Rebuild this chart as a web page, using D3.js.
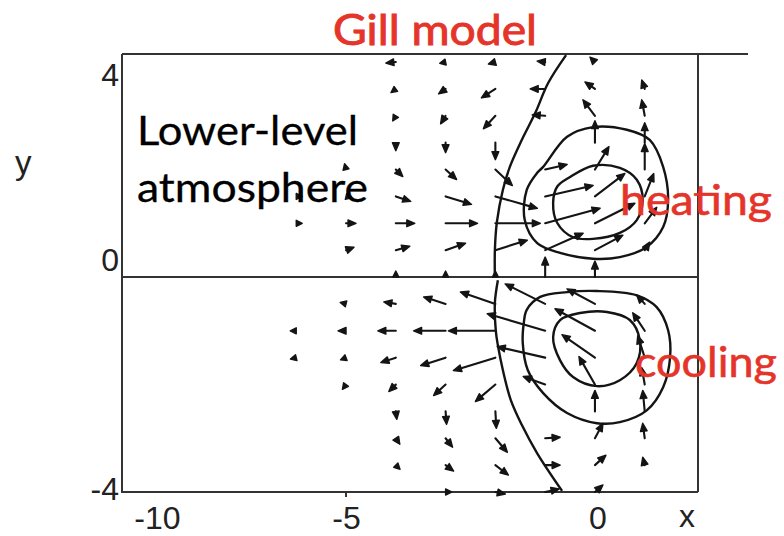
<!DOCTYPE html>
<html><head><meta charset="utf-8">
<script src="https://cdn.jsdelivr.net/npm/d3@7"></script>
<style>body{margin:0;background:#fff} svg{display:block}</style>
</head><body>
<svg id="c" width="784" height="536"></svg>
<script>
// ---- grid of the wind vectors ----
const xCols = [-6, -5, -4, -3, -2, -1, 0, 1];
const yRows = [4, 3.5, 3, 2.5, 2, 1.5, 1, 0.5, 0, -0.5, -1, -1.5, -2, -2.5, -3, -3.5, -4];
// eastward component (one row per yRows entry, one column per xCols entry)
const uWind = [
  [0, 0, -1.0, -0.5, -0.7, -0.8, -0.5, 0],
  [0, 0, -0.4, -0.7, -1.4, -1.5, -1.0, -0.3],
  [0, 0, -0.3, -0.5, -1.2, -1.3, -1.2, -0.3],
  [0, 0, 0, 0, 0, 0, 0, 0],
  [0, -0.1, 0.7, 1.1, 1.7, 2.2, 1.4, 0],
  [0.4, 0.4, 1.5, 2.6, 4.2, 4.8, 3.0, 0.9],
  [0.5, 1.0, 1.9, 3.2, 4.5, 5.5, 4.0, 1.2],
  [0, 0.8, 1.4, 2.0, 3.2, 3.8, 2.8, 0.5],
  [0, 0, 0, 0, 0, 0, 0, 0],
  [0, -0.4, -1.2, -2.2, -3.5, -4.0, -2.8, -0.8],
  [-0.5, -0.8, -1.8, -3.2, -4.7, -5.8, -4.0, -1.2],
  [-0.4, -0.5, -1.5, -2.5, -4.2, -4.8, -3.3, -0.7],
  [0, -0.3, -0.7, -1.2, -2.0, -2.2, -1.6, -0.3],
  [0, 0, 0.1, 0.1, 0.1, 0, 0, -0.2],
  [0, 0, 0.4, 0.7, 1.2, 1.5, 0.8, -0.2],
  [0, 0, 0.4, 0.8, 1.3, 1.5, 1.1, -0.2],
  [0, 0, 0, 0.2, 1.0, 1.4, 0.8, 0]
];
// northward component
const vWind = [
  [0, 0, -0.1, -0.1, -0.2, 0.1, 0.5, 0],
  [0, 0, -0.3, -0.5, -0.9, 0, 0.7, 0.9],
  [0, 0, -0.5, -0.8, -1.3, 0.1, 1.6, 1.6],
  [0, 0, -0.8, -1.0, -1.7, 0, 2.2, 2.0],
  [0, 0.4, -0.7, -1.0, -1.6, 0.5, 2.3, 2.6],
  [0, -0.1, -0.5, -0.8, -1.2, 1.1, 2.3, 2.3],
  [0, 0, 0, 0, 0, 1.5, 2.0, 1.6],
  [0, 0.3, 0.4, 0.7, 1.0, 1.7, 1.5, 0.8],
  [0, 0, 0.5, 0.6, 0.5, 2.0, 1.6, 0],
  [0, 0.1, 0.2, 0.7, 1.2, 2.0, 1.5, 0.9],
  [0, 0, 0, 0, 0, 1.7, 2.2, 1.8],
  [-0.1, -0.2, -0.5, -0.8, -1.3, 1.1, 2.3, 2.2],
  [0, -0.4, -0.7, -1.1, -1.7, 0.8, 2.8, 1.7],
  [0, 0, -0.8, -1.3, -1.7, 0, 2.1, 2.1],
  [0, 0, -0.6, -0.9, -1.4, 0.1, 1.5, 1.5],
  [0, 0, -0.4, -0.6, -1.0, 0, 1.0, 0.8],
  [0, 0, 0, 0, -0.2, 0.3, 0.7, 0]
];
// ---- contours (x, y) ----
const heatOuter = [[-1.04,2.05],[-0.56,2.61],[-0.04,2.79],[0.64,2.74],[1.10,2.55],[1.37,2.05],[1.47,1.43],[1.37,0.93],[1.04,0.56],[0.50,0.37],[-0.04,0.34],[-0.70,0.45],[-1.16,0.63],[-1.41,1.06],[-1.37,1.62],[-1.16,1.94]];
const heatInner = [[-0.84,1.38],[-0.76,1.68],[-0.50,1.86],[-0.04,2.07],[0.50,2.03],[0.84,1.81],[0.96,1.43],[0.84,1.06],[0.50,0.82],[-0.04,0.71],[-0.44,0.74],[-0.76,1.01]];
const coolOuter = [[-1.37,-0.61],[-1.10,-0.37],[-0.56,-0.28],[0.04,-0.26],[0.84,-0.34],[1.24,-0.56],[1.47,-0.99],[1.51,-1.49],[1.37,-2.05],[1.04,-2.48],[0.50,-2.70],[0.04,-2.72],[-0.56,-2.53],[-1.04,-2.16],[-1.35,-1.73],[-1.45,-1.23],[-1.43,-0.86]];
const coolInner = [[-0.84,-1.12],[-0.70,-0.80],[-0.30,-0.67],[0.24,-0.65],[0.70,-0.80],[0.90,-1.17],[0.84,-1.60],[0.50,-1.92],[0.04,-2.03],[-0.44,-1.86],[-0.70,-1.55]];
const zeroNorth = [[-0.58,4.13],[-0.94,3.61],[-1.20,3.05],[-1.47,2.55],[-1.71,2.05],[-1.85,1.62],[-1.97,1.02],[-2.01,0.50],[-2.01,0]];
const zeroSouth = [[-1.95,-0.06],[-2.01,-0.48],[-1.99,-1.01],[-1.95,-1.27],[-1.85,-1.73],[-1.69,-2.29],[-1.47,-2.75],[-1.16,-3.28],[-0.66,-3.98]];
// ---- tick labels ----
const xTickLabels = ["-10", "-5", "0"];
const xTickAt = [-8.8, -5, 0.05];
const yTickLabels = ["4", "0", "-4"];
const yTickAt = [3.76, 0.32, -3.95];

const svg = d3.select("#c");
const x = d3.scaleLinear().domain([-9.5, 2.07]).range([122, 698]);
const y = d3.scaleLinear().domain([-4, 4.15]).range([492, 54]);
const arrowLen = d3.scaleLinear().domain([0, 1]).range([0, 10]);
const ink = "#141414";
const red = "#e5342a";
const x0 = x.range()[0], x1 = x.range()[1];
const yTop = y.range()[1], yBot = y.range()[0];

// frame
const frame = svg.append("g").attr("stroke", "#333").attr("stroke-width", 2).attr("fill", "none");
frame.append("line").attr("x1", x0).attr("x2", x1 + 50).attr("y1", yTop).attr("y2", yTop);
frame.append("line").attr("x1", x0).attr("x2", x1).attr("y1", yBot).attr("y2", yBot);
frame.append("line").attr("x1", x0).attr("x2", x0).attr("y1", yTop).attr("y2", yBot + 1);
frame.append("line").attr("x1", x1).attr("x2", x1).attr("y1", yTop).attr("y2", yBot);
frame.append("line").attr("x1", x0).attr("x2", x1).attr("y1", y(0)).attr("y2", y(0));

// contours
const closed = d3.line().x(d => x(d[0])).y(d => y(d[1])).curve(d3.curveCatmullRomClosed.alpha(0.5));
const open = d3.line().x(d => x(d[0])).y(d => y(d[1])).curve(d3.curveCatmullRom.alpha(0.5));
const cg = svg.append("g").attr("fill", "none").attr("stroke", ink).attr("stroke-width", 2.4);
[heatOuter, heatInner, coolOuter, coolInner].forEach(c => cg.append("path").attr("d", closed(c)));
[zeroNorth, zeroSouth].forEach(c => cg.append("path").attr("d", open(c)));

// arrows
const ag = svg.append("g");
yRows.forEach((yr, i) => {
  xCols.forEach((xc, j) => {
    const dx = arrowLen(uWind[i][j]), dy = -arrowLen(vWind[i][j]);
    const len = Math.hypot(dx, dy);
    if (len < 0.5) return;
    const ux = dx / len, uy = dy / len;
    const tx = x(xc), ty = y(yr);
    const L = Math.max(len, 6);
    const hx = tx + ux * L, hy = ty + uy * L;
    const hl = Math.min(8, L), hw = Math.min(3.4, hl * 0.5);
    if (L > hl) {
      ag.append("line").attr("x1", tx).attr("y1", ty)
        .attr("x2", hx - ux * hl * 0.7).attr("y2", hy - uy * hl * 0.7)
        .attr("stroke", ink).attr("stroke-width", 2.1).attr("stroke-linecap", "round");
    }
    const bx = hx - ux * hl, by = hy - uy * hl;
    ag.append("path")
      .attr("d", `M${hx},${hy}L${bx - uy * hw},${by + ux * hw}L${bx + uy * hw},${by - ux * hw}Z`)
      .attr("fill", ink).attr("stroke", ink).attr("stroke-width", 1.4).attr("stroke-linejoin", "round");
  });
});

// axes (labels only)
const axFont = "'Liberation Sans', Arial, sans-serif";
const xAxis = svg.append("g").attr("transform", `translate(0,${yBot})`)
  .call(d3.axisBottom(x).tickValues(xTickAt).tickFormat((d, i) => xTickLabels[i]).tickSize(0).tickPadding(14));
xAxis.select(".domain").remove();
xAxis.selectAll("text").attr("font-family", axFont).attr("font-size", 32).attr("fill", "#222").attr("dy", "0.71em");
const yAxis = svg.append("g").attr("transform", `translate(${x0},0)`)
  .call(d3.axisLeft(y).tickValues(yTickAt).tickFormat((d, i) => yTickLabels[i]).tickSize(0).tickPadding(3));
yAxis.select(".domain").remove();
yAxis.selectAll("text").attr("font-family", axFont).attr("font-size", 32).attr("fill", "#222");
// tick mark at -5
svg.append("line").attr("x1", x(-5)).attr("x2", x(-5)).attr("y1", yBot).attr("y2", yBot + 5)
  .attr("stroke", "#333").attr("stroke-width", 2);

svg.append("text").attr("x", 15).attr("y", 174).attr("font-family", axFont).attr("font-size", 33).attr("fill", "#222").text("y");
svg.append("text").attr("x", 679).attr("y", 527).attr("font-family", axFont).attr("font-size", 32).attr("fill", "#222").text("x");

// annotations
const tFont = "Lato, 'Open Sans', sans-serif";
function label(txt, px, py, size, color, width, sw) {
  svg.append("text").attr("x", px).attr("y", py).attr("font-family", tFont).attr("font-size", size)
    .attr("fill", color).attr("stroke", color).attr("stroke-width", sw)
    .attr("textLength", width).attr("lengthAdjust", "spacingAndGlyphs").text(txt);
}
label("Gill model", 333, 45, 42, red, 204, 0.9);
label("Lower-level", 137, 145, 41, "#000", 221, 0.3);
label("atmosphere", 137, 202, 41, "#000", 231, 0.3);
label("heating", 620, 215, 43, red, 152, 0.6);
label("cooling", 635, 377, 43, red, 142, 0.6);
</script>
</body></html>
